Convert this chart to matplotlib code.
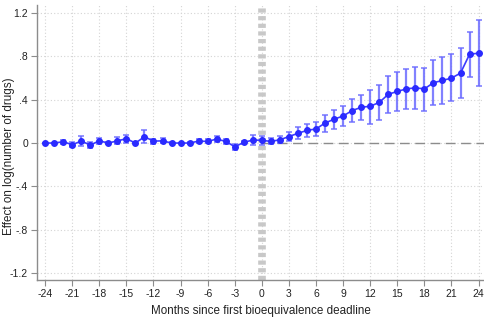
import numpy as np
import matplotlib
matplotlib.use("Agg")
import matplotlib.pyplot as plt

# event-study estimates, months relative to first bioequivalence deadline
months = list(range(-24, 25))
effect = [0.0, 0.0, 0.012, -0.015, 0.018, -0.018, 0.02, 0.0, 0.02, 0.04,
          0.0, 0.058, 0.018, 0.02, 0.0, 0.0, 0.0, 0.018, 0.015, 0.037,
          0.015, -0.034, 0.006, 0.028, 0.025, 0.015, 0.03, 0.06, 0.09, 0.117,
          0.13, 0.185, 0.22, 0.25, 0.30, 0.33, 0.34, 0.375, 0.45, 0.477,
          0.50, 0.51, 0.50, 0.557, 0.578, 0.60, 0.646, 0.82, 0.83]
ci_low = [0.0, 0.0, -0.01, -0.037, -0.025, -0.043, -0.005, -0.012, -0.006, 0.0,
          0.0, -0.003, -0.006, 0.0, -0.01, 0.0, -0.012, -0.003, -0.003, 0.012,
          -0.009, -0.065, -0.006, -0.018, -0.022, -0.01, 0.0, 0.015, 0.037, 0.058,
          0.062, 0.102, 0.129, 0.154, 0.194, 0.215, 0.178, 0.209, 0.277, 0.292,
          0.31, 0.31, 0.292, 0.348, 0.365, 0.385, 0.412, 0.609, 0.529]
ci_high = [0.0, 0.0, 0.031, 0.009, 0.062, 0.006, 0.043, 0.012, 0.052, 0.077,
           0.0, 0.117, 0.04, 0.049, 0.009, 0.0, 0.012, 0.037, 0.034, 0.065,
           0.037, -0.009, 0.022, 0.071, 0.065, 0.049, 0.068, 0.102, 0.145, 0.178,
           0.197, 0.262, 0.308, 0.345, 0.406, 0.446, 0.492, 0.532, 0.621, 0.655,
           0.686, 0.698, 0.695, 0.763, 0.791, 0.822, 0.877, 1.03, 1.132]

x_ticks = list(range(-24, 25, 3))
y_ticks = [-1.2, -0.8, -0.4, 0, 0.4, 0.8, 1.2]
y_labels = ["-1.2", "-.8", "-.4", "0", ".4", ".8", "1.2"]

plt.rcParams['font.family'] = ['Liberation Sans', 'DejaVu Sans']
plt.rcParams['axes.unicode_minus'] = False

fig = plt.figure(figsize=(4.84, 3.2), dpi=100)
ax = fig.add_axes([37 / 484, 40 / 320, 447 / 484, 275 / 320])

eff = np.array(effect)
yerr = [eff - np.array(ci_low), np.array(ci_high) - eff]

ax.axvline(0, color="#c8c8c8", lw=5.5, ls=(0, (0.55, 0.45)), zorder=1)
ax.plot([0, 24.6], [0, 0], color="#8c8c8c", lw=1, ls=(0, (7, 4)), zorder=1)

ax.errorbar(months, effect, yerr=yerr, fmt="none", ecolor="#6b6bff",
            elinewidth=1.6, capsize=2.2, capthick=1.2, alpha=0.85, zorder=2)
ax.plot(months, effect, color="#3b3bff", lw=1.2, marker="o", ms=4,
        markerfacecolor="#2a2aff", markeredgecolor="#2a2aff", zorder=3)

ax.set_xlim(-24.9, 24.6)
ax.set_ylim(-1.265, 1.275)
ax.set_xticks(x_ticks)
ax.set_yticks(y_ticks)
ax.set_yticklabels(y_labels)
ax.grid(True, color="#d4d4d4", ls=(0, (1, 2)), lw=0.8)
ax.set_axisbelow(True)

for s in ["top", "right"]:
    ax.spines[s].set_visible(False)
for s in ["left", "bottom"]:
    ax.spines[s].set_color("#8c8c8c")
    ax.spines[s].set_linewidth(1)
ax.tick_params(colors="#8c8c8c", labelcolor="#222222", labelsize=7.5, length=4, width=0.8, pad=2.5)

ax.set_xlabel("Months since first bioequivalence deadline", fontsize=8.4, color="#222222")
ax.set_ylabel("Effect on log(number of drugs)", fontsize=8.4, color="#222222")
ax.yaxis.set_label_coords(-0.05, 0.45)

fig.savefig("out.png", dpi=100)
